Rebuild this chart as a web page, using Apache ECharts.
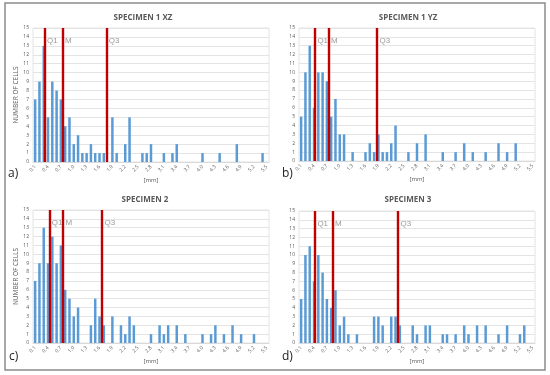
<!DOCTYPE html>
<html><head><meta charset="utf-8">
<script src="https://cdn.jsdelivr.net/npm/echarts@6/dist/echarts.min.js"></script>
<style>html,body{margin:0;padding:0;background:#fff}#c{width:550px;height:375px}</style>
</head><body><div id="c"></div>
<script>
// Bin labels (mm)
const categories = ['0.1','0.2','0.3','0.4','0.5','0.6','0.7','0.8','0.9','1.0',
  '1.1','1.2','1.3','1.4','1.5','1.6','1.7','1.8','1.9','2.0',
  '2.1','2.2','2.3','2.4','2.5','2.6','2.7','2.8','2.9','3.0',
  '3.1','3.2','3.3','3.4','3.5','3.6','3.7','3.8','3.9','4.0',
  '4.1','4.2','4.3','4.4','4.5','4.6','4.7','4.8','4.9','5.0',
  '5.1','5.2','5.3','5.4','5.5'];

// Number of cells per bin
const spec1xz = [7,9,13,5,9,8,7,4,5,2, 3,1,1,2,1,1,1,0,5,1, 0,2,5,0,0,1,1,2,0,0, 1,0,1,2,0,0,0,0,0,1, 0,0,0,1,0,0,0,2,0,0, 0,0,0,1,0];
const spec1yz = [5,10,13,6,10,10,9,5,7,3, 3,0,1,0,0,1,2,1,3,1, 1,2,4,0,0,1,0,2,0,3, 0,0,0,1,0,0,1,0,2,0, 1,0,0,1,0,0,2,0,1,0, 2,0,0,0,0];
const spec2   = [7,9,13,9,12,9,11,6,5,3, 4,0,0,2,5,3,2,0,3,0, 2,1,3,2,0,0,0,1,0,2, 1,2,0,2,0,1,0,0,0,1, 0,1,2,0,1,0,2,0,1,0, 0,1,0,0,0];
const spec3   = [5,10,11,7,10,8,5,4,6,2, 3,1,0,1,0,0,0,3,3,2, 0,3,3,2,0,0,2,1,0,2, 2,0,0,1,1,0,1,0,2,1, 0,2,0,2,0,0,1,0,2,0, 0,1,2,0,0];

// Quartile markers (mm): Q1, median, Q3
const quartileNames = ['Q1','M','Q3'];
const q1xz = [0.32, 0.74, 1.76];
const q1yz = [0.42, 0.74, 1.87];
const q2   = [0.43, 0.75, 1.66];
const q3   = [0.42, 0.83, 2.36];

const titles = ['SPECIMEN 1 XZ','SPECIMEN 1 YZ','SPECIMEN 2','SPECIMEN 3'];
const letters = ['a)','b)','c)','d)'];
const yTicks = [0,1,2,3,4,5,6,7,8,9,10,11,12,13,14,15];

const panels = [
  {data: spec1xz, q: q1xz, left: 33, top: 28, h: 134, yName: true, tx: 143, ty: 18, lx: 8, ly: 174},
  {data: spec1yz, q: q1yz, left: 299, top: 28, h: 133, yName: false, tx: 408, ty: 18, lx: 282, ly: 174},
  {data: spec2, q: q2, left: 33, top: 210, h: 133, yName: true, tx: 145, ty: 200, lx: 9, ly: 357},
  {data: spec3, q: q3, left: 299, top: 211, h: 132, yName: false, tx: 408, ty: 200, lx: 282, ly: 357}
];

const grid = [], xAxis = [], yAxis = [], series = [], graphic = [];
const txt = '#595959';
panels.forEach((p, k) => {
  grid.push({left: p.left, top: p.top, width: 236, height: p.h, show: true, borderColor: '#e4e4e4', borderWidth: 1});
  xAxis.push({
    type: 'category', gridIndex: k, data: categories,
    axisLine: {lineStyle: {color: '#d9d9d9'}}, axisTick: {show: false},
    axisLabel: {interval: 2, rotate: 45, fontSize: 5, color: txt, margin: 4, fontFamily: 'Open Sans'},
    name: '[mm]', nameLocation: 'middle', nameGap: 15,
    nameTextStyle: {fontSize: 6, color: txt, fontFamily: 'Open Sans'}
  });
  xAxis.push({type: 'value', gridIndex: k, min: 0.05, max: 5.55, show: false});
  yAxis.push({
    type: 'value', gridIndex: k, min: yTicks[0], max: yTicks[yTicks.length-1], interval: 1,
    axisLine: {show: false}, axisTick: {show: false},
    splitLine: {lineStyle: {color: '#e4e4e4', width: 1}},
    axisLabel: {fontSize: 5, color: txt, margin: 4, fontFamily: 'Open Sans'},
    name: p.yName ? 'NUMBER OF CELLS' : '', nameLocation: 'middle', nameGap: 13,
    nameTextStyle: {fontSize: 6.5, color: txt, fontFamily: 'Open Sans'}
  });
  series.push({
    type: 'bar', xAxisIndex: 2*k, yAxisIndex: k, data: p.data,
    barWidth: '58%', itemStyle: {color: '#5B9BD5'}, silent: true, animation: false
  });
  series.push({
    type: 'scatter', xAxisIndex: 2*k+1, yAxisIndex: k,
    data: p.q.map((v, i) => ({value: [v, 13.6], name: quartileNames[i]})),
    symbolSize: 1, itemStyle: {color: 'rgba(0,0,0,0)'}, silent: true, animation: false, z: 5,
    label: {show: true, position: 'right', distance: 2, formatter: d => d.name,
      fontSize: 8, color: '#7f7f7f', fontFamily: 'Liberation Sans'},
    markLine: {
      silent: true, symbol: 'none', animation: false,
      label: {show: false},
      lineStyle: {color: '#C00000', width: 2.4, type: 'solid', opacity: 1},
      data: p.q.map(v => ({xAxis: v}))
    }
  });
  graphic.push({type: 'text', style: {text: titles[k], x: p.tx, y: p.ty,
    textAlign: 'center', textVerticalAlign: 'middle', align: 'center', verticalAlign: 'middle',
    font: 'bold 8px "Open Sans"', fill: txt}});
  graphic.push({type: 'text', style: {text: letters[k], x: p.lx, y: p.ly,
    textAlign: 'left', textVerticalAlign: 'middle', align: 'left', verticalAlign: 'middle',
    font: '12px "Open Sans"', fill: '#222'}});
});
graphic.push({type: 'rect', shape: {x: 5, y: 3, width: 540, height: 367},
  style: {fill: 'none', stroke: '#8c8c8c', lineWidth: 1.5}, silent: true});

const chart = echarts.init(document.getElementById('c'));
chart.setOption({animation: false, grid, xAxis, yAxis, series, graphic});
</script></body></html>
